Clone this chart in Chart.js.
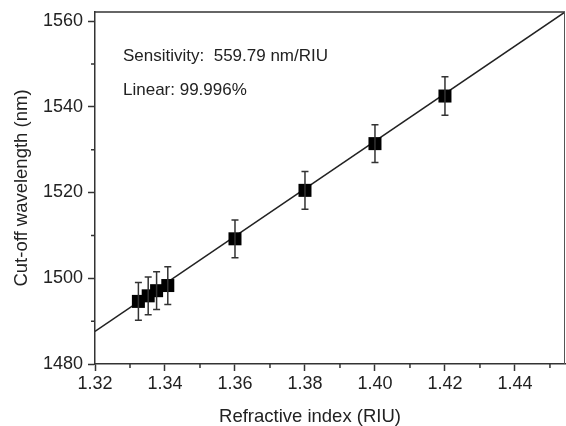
<!DOCTYPE html>
<html>
<head>
<meta charset="utf-8">
<script src="https://cdn.jsdelivr.net/npm/chart.js@4.4.1/dist/chart.umd.min.js"></script>
<style>
  html, body { margin: 0; padding: 0; background: #fff; }
  #wrap { width: 566px; height: 426px; }
</style>
</head>
<body>
<div id="wrap"><canvas id="myChart" width="566" height="426"></canvas></div>
<script>
// measured points (refractive index vs cut-off wavelength)
const refIndex = [1.3324, 1.3352, 1.3376, 1.3408, 1.36, 1.38, 1.40, 1.42];
const cutoff = [1494.6, 1495.9, 1497.1, 1498.3, 1509.2, 1520.5, 1531.4, 1542.5];
const errors = [4.4, 4.4, 4.4, 4.4, 4.4, 4.4, 4.4, 4.5];

// linear fit line at both ends
const fitX = [1.32, 1.4543];
const fitY = [1487.6, 1562.1];

const xTicks = [1.32, 1.33, 1.34, 1.35, 1.36, 1.37, 1.38, 1.39, 1.40, 1.41, 1.42, 1.43, 1.44, 1.45];
const xLabels = ['1.32', '', '1.34', '', '1.36', '', '1.38', '', '1.40', '', '1.42', '', '1.44', ''];
const yTicks = [1480, 1490, 1500, 1510, 1520, 1530, 1540, 1550, 1560];
const yLabels = ['1480', '', '1500', '', '1520', '', '1540', '', '1560'];

const xTitle = 'Refractive index (RIU)';
const yTitle = 'Cut-off wavelength (nm)';
const notes = ['Sensitivity:  559.79 nm/RIU', 'Linear: 99.996%'];

const FONT = "Arial, 'Liberation Sans', sans-serif";
const INK = '#222';

// error bars + frame + short minor ticks + the text that sits off-centre
const extras = {
  id: 'extras',
  afterDatasetsDraw(chart) {
    const ctx = chart.ctx;
    const xs = chart.scales.x, ys = chart.scales.y;
    ctx.save();
    ctx.strokeStyle = '#333';
    ctx.lineWidth = 1.5;
    for (let i = 0; i < refIndex.length; i++) {
      const px = xs.getPixelForValue(refIndex[i]);
      const top = ys.getPixelForValue(cutoff[i] + errors[i]);
      const bot = ys.getPixelForValue(cutoff[i] - errors[i]);
      ctx.beginPath();
      ctx.moveTo(px, top); ctx.lineTo(px, bot);
      ctx.moveTo(px - 3.5, top); ctx.lineTo(px + 3.5, top);
      ctx.moveTo(px - 3.5, bot); ctx.lineTo(px + 3.5, bot);
      ctx.stroke();
    }
    ctx.restore();
  },
  afterDraw(chart) {
    const ctx = chart.ctx;
    const a = chart.chartArea;
    const xs = chart.scales.x, ys = chart.scales.y;
    ctx.save();
    ctx.strokeStyle = '#333';
    ctx.lineWidth = 1.5;
    ctx.beginPath();
    ctx.moveTo(a.left, a.top); ctx.lineTo(a.right, a.top);
    ctx.stroke();
    ctx.lineWidth = 1;
    ctx.strokeStyle = '#555';
    ctx.beginPath();
    ctx.moveTo(a.right - 0.5, a.top); ctx.lineTo(a.right - 0.5, a.bottom);
    ctx.stroke();

    // minor ticks, shorter than the labelled ones
    ctx.strokeStyle = '#333';
    ctx.lineWidth = 1.5;
    ctx.beginPath();
    xTicks.forEach((v, i) => {
      if (xLabels[i] !== '') return;
      const px = xs.getPixelForValue(v);
      ctx.moveTo(px, a.bottom); ctx.lineTo(px, a.bottom + 4);
    });
    yTicks.forEach((v, i) => {
      if (yLabels[i] !== '') return;
      const py = ys.getPixelForValue(v);
      ctx.moveTo(a.left, py); ctx.lineTo(a.left - 4, py);
    });
    ctx.stroke();

    ctx.fillStyle = INK;
    ctx.font = '17px ' + FONT;
    ctx.textBaseline = 'alphabetic';
    ctx.textAlign = 'left';
    ctx.fillText(notes[0], 123, 61);
    ctx.fillText(notes[1], 123, 95);

    // x title is a bit left of the plot centre in the original
    ctx.font = '18.5px ' + FONT;
    ctx.textAlign = 'center';
    ctx.fillText(xTitle, 310, 421.5);
    ctx.restore();
  }
};

const ctx = document.getElementById('myChart').getContext('2d');

new Chart(ctx, {
  type: 'scatter',
  data: {
    datasets: [
      {
        type: 'line',
        data: fitX.map((x, i) => ({ x: x, y: fitY[i] })),
        borderColor: '#222',
        borderWidth: 1.5,
        pointRadius: 0,
        fill: false,
        order: 2
      },
      {
        data: refIndex.map((x, i) => ({ x: x, y: cutoff[i] })),
        pointStyle: 'rect',
        pointRadius: 9.2,
        backgroundColor: '#000',
        borderWidth: 0,
        order: 1
      }
    ]
  },
  options: {
    responsive: false,
    animation: false,
    layout: { autoPadding: false, padding: { top: 12, right: 1, left: 0, bottom: 0 } },
    plugins: {
      legend: { display: false },
      tooltip: { enabled: false }
    },
    scales: {
      x: {
        type: 'linear',
        min: 1.32,
        max: 1.4543,
        afterBuildTicks: (scale) => { scale.ticks = xTicks.map(v => ({ value: v })); },
        afterFit: (scale) => {
          scale.height = 62;
          scale.paddingLeft = 0;
          scale.paddingRight = 0;
        },
        border: { display: true, color: '#333', width: 1.5 },
        grid: {
          drawOnChartArea: false,
          tickLength: 7,
          tickWidth: 1.5,
          tickColor: (c) => xLabels[c.index] === '' ? 'rgba(0,0,0,0)' : '#333'
        },
        ticks: {
          autoSkip: false,
          maxRotation: 0,
          padding: 2,
          color: INK,
          font: { family: FONT, size: 18 },
          callback: (v, i) => xLabels[i]
        },
        title: { display: false }
      },
      y: {
        type: 'linear',
        min: 1480,
        max: 1562.1,
        afterBuildTicks: (scale) => { scale.ticks = yTicks.map(v => ({ value: v })); },
        afterFit: (scale) => {
          scale.width = 95;
          scale.paddingTop = 0;
          scale.paddingBottom = 0;
        },
        border: { display: true, color: '#333', width: 1.5 },
        grid: {
          drawOnChartArea: false,
          tickLength: 7,
          tickWidth: 1.5,
          tickColor: (c) => yLabels[c.index] === '' ? 'rgba(0,0,0,0)' : '#333'
        },
        ticks: {
          autoSkip: false,
          padding: 5,
          color: INK,
          font: { family: FONT, size: 18 },
          callback: (v, i) => yLabels[i]
        },
        title: {
          display: true,
          text: yTitle,
          color: INK,
          font: { family: FONT, size: 18.5 },
          padding: { top: 11, bottom: 0 }
        }
      }
    }
  },
  plugins: [extras]
});
</script>
</body>
</html>
